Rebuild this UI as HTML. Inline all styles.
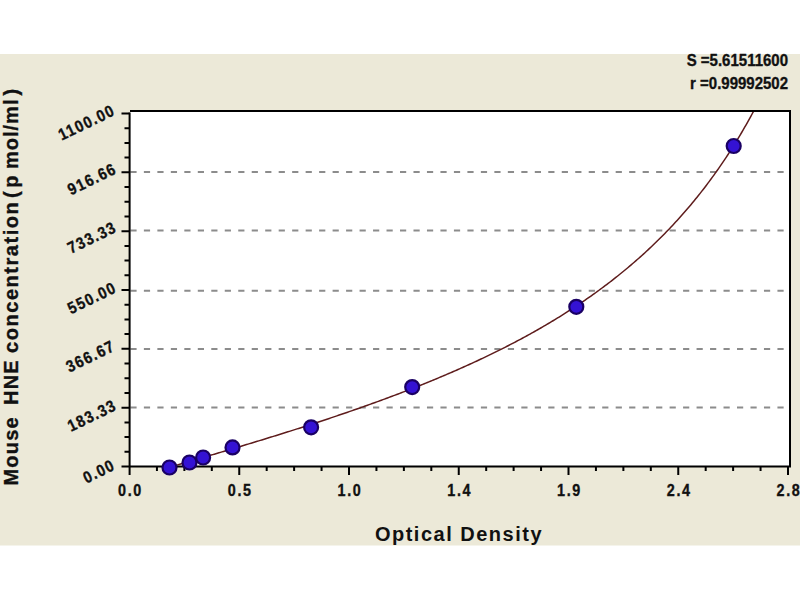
<!DOCTYPE html>
<html><head><meta charset="utf-8"><style>
html,body{margin:0;padding:0;background:#fff;width:800px;height:600px;overflow:hidden}
svg{display:block}
text{font-family:"Liberation Sans",sans-serif;font-weight:bold;fill:#111;stroke:#111;stroke-width:0.35px}
</style></head><body><div id="w">
<svg width="800" height="600" viewBox="0 0 800 600">
<defs><clipPath id="pc"><rect x="130" y="112" width="659" height="354"/></clipPath></defs>
<rect x="0" y="54" width="800" height="491.5" fill="#ECE9D8"/>
<rect x="130" y="111" width="660" height="355.5" fill="#fff"/>
<path d="M130.4 407.6H789M130.4 349.1H789M130.4 290.7H789M130.4 230.5H789M130.4 172.1H789" stroke="#8c8c8c" stroke-width="2" stroke-dasharray="6.2 7.28" fill="none"/>
<polyline points="153.02,471.98 154.55,471.54 156.08,471.10 157.62,470.65 159.15,470.21 160.68,469.77 162.21,469.33 163.75,468.89 165.28,468.44 166.81,468.00 168.34,467.56 169.88,467.12 171.41,466.67 172.94,466.23 174.47,465.79 176.01,465.34 177.54,464.90 179.07,464.45 180.60,464.01 182.14,463.57 183.67,463.12 185.20,462.68 186.73,462.23 188.27,461.79 189.80,461.34 191.33,460.89 192.86,460.45 194.40,460.00 195.93,459.55 197.46,459.11 198.99,458.66 200.53,458.21 202.06,457.76 203.59,457.31 205.12,456.87 206.66,456.42 208.19,455.97 209.72,455.52 211.25,455.07 212.79,454.61 214.32,454.16 215.85,453.71 217.38,453.26 218.92,452.81 220.45,452.35 221.98,451.90 223.51,451.45 225.05,450.99 226.58,450.54 228.11,450.08 229.64,449.63 231.18,449.17 232.71,448.71 234.24,448.25 235.77,447.80 237.31,447.34 238.84,446.88 240.37,446.42 241.90,445.96 243.44,445.50 244.97,445.04 246.50,444.57 248.03,444.11 249.57,443.65 251.10,443.18 252.63,442.72 254.16,442.25 255.70,441.79 257.23,441.32 258.76,440.85 260.29,440.38 261.83,439.92 263.36,439.45 264.89,438.98 266.42,438.51 267.96,438.03 269.49,437.56 271.02,437.09 272.55,436.61 274.09,436.14 275.62,435.66 277.15,435.19 278.68,434.71 280.22,434.23 281.75,433.75 283.28,433.27 284.81,432.79 286.35,432.31 287.88,431.83 289.41,431.34 290.94,430.86 292.48,430.37 294.01,429.89 295.54,429.40 297.07,428.91 298.61,428.42 300.14,427.93 301.67,427.44 303.20,426.95 304.74,426.46 306.27,425.96 307.80,425.47 309.33,424.97 310.87,424.48 312.40,423.98 313.93,423.48 315.46,422.98 317.00,422.48 318.53,421.97 320.06,421.47 321.59,420.96 323.13,420.46 324.66,419.95 326.19,419.44 327.72,418.93 329.26,418.42 330.79,417.91 332.32,417.40 333.85,416.88 335.39,416.37 336.92,415.85 338.45,415.33 339.98,414.81 341.52,414.29 343.05,413.77 344.58,413.24 346.11,412.72 347.65,412.19 349.18,411.66 350.71,411.13 352.24,410.60 353.78,410.07 355.31,409.54 356.84,409.00 358.37,408.46 359.91,407.93 361.44,407.39 362.97,406.84 364.50,406.30 366.04,405.76 367.57,405.21 369.10,404.66 370.63,404.11 372.17,403.56 373.70,403.01 375.23,402.46 376.76,401.90 378.30,401.34 379.83,400.78 381.36,400.22 382.89,399.66 384.43,399.09 385.96,398.53 387.49,397.96 389.02,397.39 390.56,396.82 392.09,396.24 393.62,395.67 395.15,395.09 396.69,394.51 398.22,393.93 399.75,393.35 401.28,392.76 402.82,392.17 404.35,391.59 405.88,390.99 407.41,390.40 408.95,389.81 410.48,389.21 412.01,388.61 413.54,388.01 415.08,387.40 416.61,386.80 418.14,386.19 419.67,385.58 421.21,384.96 422.74,384.35 424.27,383.73 425.80,383.11 427.34,382.49 428.87,381.87 430.40,381.24 431.93,380.61 433.47,379.98 435.00,379.35 436.53,378.71 438.06,378.07 439.60,377.43 441.13,376.78 442.66,376.14 444.19,375.49 445.73,374.84 447.26,374.18 448.79,373.52 450.32,372.86 451.86,372.20 453.39,371.54 454.92,370.87 456.45,370.20 457.99,369.52 459.52,368.85 461.05,368.17 462.58,367.48 464.12,366.80 465.65,366.11 467.18,365.42 468.71,364.72 470.25,364.03 471.78,363.33 473.31,362.62 474.84,361.91 476.38,361.20 477.91,360.49 479.44,359.77 480.97,359.05 482.51,358.33 484.04,357.60 485.57,356.87 487.10,356.14 488.64,355.40 490.17,354.66 491.70,353.92 493.23,353.17 494.77,352.42 496.30,351.66 497.83,350.90 499.36,350.14 500.90,349.37 502.43,348.60 503.96,347.83 505.49,347.05 507.03,346.27 508.56,345.49 510.09,344.70 511.62,343.90 513.16,343.10 514.69,342.30 516.22,341.50 517.75,340.68 519.29,339.87 520.82,339.05 522.35,338.23 523.88,337.40 525.42,336.57 526.95,335.73 528.48,334.89 530.01,334.04 531.55,333.19 533.08,332.34 534.61,331.48 536.14,330.61 537.68,329.74 539.21,328.87 540.74,327.99 542.27,327.10 543.81,326.21 545.34,325.32 546.87,324.42 548.40,323.51 549.94,322.60 551.47,321.69 553.00,320.76 554.53,319.84 556.07,318.90 557.60,317.97 559.13,317.02 560.66,316.07 562.20,315.12 563.73,314.16 565.26,313.19 566.79,312.22 568.33,311.24 569.86,310.25 571.39,309.26 572.92,308.26 574.46,307.26 575.99,306.25 577.52,305.23 579.05,304.21 580.59,303.18 582.12,302.14 583.65,301.10 585.18,300.05 586.72,298.99 588.25,297.92 589.78,296.85 591.31,295.77 592.85,294.69 594.38,293.59 595.91,292.49 597.44,291.38 598.98,290.26 600.51,289.14 602.04,288.01 603.57,286.87 605.11,285.72 606.64,284.56 608.17,283.40 609.70,282.23 611.24,281.04 612.77,279.85 614.30,278.66 615.83,277.45 617.37,276.23 618.90,275.01 620.43,273.77 621.96,272.53 623.50,271.28 625.03,270.01 626.56,268.74 628.09,267.46 629.63,266.17 631.16,264.87 632.69,263.55 634.22,262.23 635.76,260.90 637.29,259.56 638.82,258.20 640.35,256.84 641.89,255.46 643.42,254.08 644.95,252.68 646.48,251.27 648.02,249.85 649.55,248.42 651.08,246.97 652.61,245.52 654.15,244.05 655.68,242.57 657.21,241.07 658.74,239.57 660.28,238.05 661.81,236.52 663.34,234.97 664.87,233.41 666.41,231.84 667.94,230.25 669.47,228.65 671.00,227.04 672.54,225.41 674.07,223.77 675.60,222.11 677.13,220.43 678.67,218.75 680.20,217.04 681.73,215.32 683.26,213.58 684.80,211.83 686.33,210.06 687.86,208.27 689.39,206.47 690.93,204.65 692.46,202.81 693.99,200.96 695.52,199.08 697.06,197.19 698.59,195.28 700.12,193.35 701.65,191.40 703.19,189.43 704.72,187.44 706.25,185.43 707.78,183.40 709.32,181.35 710.85,179.28 712.38,177.18 713.91,175.07 715.45,172.93 716.98,170.77 718.51,168.58 720.04,166.37 721.58,164.14 723.11,161.89 724.64,159.61 726.17,157.30 727.71,154.97 729.24,152.61 730.77,150.22 732.30,147.81 733.84,145.37 735.37,142.91 736.90,140.41 738.43,137.89 739.97,135.33 741.50,132.75 743.03,130.13 744.56,127.49 746.10,124.81 747.63,122.10 749.16,119.35 750.69,116.58 752.23,113.76 753.76,110.92 755.29,108.04 756.82,105.12 758.36,102.16 759.89,99.17 761.42,96.13 762.95,93.06 764.49,89.95" fill="none" stroke="#5e1c1c" stroke-width="1.5" clip-path="url(#pc)"/>
<path d="M130 111H791M790 110V467.5M129.6 466.5H791M129.6 112.5V475" fill="none" stroke="#000" stroke-width="2"/>
<path d="M121.5 466.50H129.6M124.5 451.79H129.6M124.5 437.08H129.6M124.5 422.38H129.6M121.5 407.67H129.6M124.5 392.96H129.6M124.5 378.25H129.6M124.5 363.54H129.6M121.5 348.83H129.6M124.5 334.12H129.6M124.5 319.42H129.6M124.5 304.71H129.6M121.5 290.00H129.6M124.5 275.29H129.6M124.5 260.58H129.6M124.5 245.88H129.6M121.5 231.17H129.6M124.5 216.46H129.6M124.5 201.75H129.6M124.5 187.04H129.6M121.5 172.33H129.6M124.5 157.62H129.6M124.5 142.92H129.6M124.5 128.21H129.6M121.5 113.50H129.6M156.94 466V471M184.38 466V471M211.81 466V471M239.25 466V475M266.69 466V471M294.12 466V471M321.56 466V471M349.00 466V475M376.44 466V471M403.88 466V471M431.31 466V471M458.75 466V475M486.19 466V471M513.62 466V471M541.06 466V471M568.50 466V475M595.94 466V471M623.38 466V471M650.81 466V471M678.25 466V475M705.69 466V471M733.12 466V471M760.56 466V471M788.00 466V475" stroke="#000" stroke-width="2" fill="none"/>
<g fill="#3412d4" stroke="#1a0064" stroke-width="2.2">
<circle cx="169.5" cy="467.5" r="7"/>
<circle cx="189.5" cy="462.5" r="7"/>
<circle cx="203.1" cy="457.5" r="7"/>
<circle cx="232.5" cy="447.4" r="7"/>
<circle cx="311.1" cy="427.3" r="7"/>
<circle cx="412.2" cy="387.1" r="7"/>
<circle cx="576.3" cy="306.8" r="7"/>
<circle cx="733.7" cy="146.0" r="7"/>
</g>
<g font-size="16.5" letter-spacing="1.6">
<text transform="translate(116.5 469.00) rotate(-26) scale(0.87 1)" text-anchor="end">0.00</text>
<text transform="translate(118.0 409.17) rotate(-26) scale(0.87 1)" text-anchor="end">183.33</text>
<text transform="translate(116.5 349.83) rotate(-26) scale(0.87 1)" text-anchor="end">366.67</text>
<text transform="translate(118.0 291.50) rotate(-26) scale(0.87 1)" text-anchor="end">550.00</text>
<text transform="translate(118.0 231.17) rotate(-26) scale(0.87 1)" text-anchor="end">733.33</text>
<text transform="translate(118.0 172.63) rotate(-26) scale(0.87 1)" text-anchor="end">916.66</text>
<text transform="translate(116.5 114.20) rotate(-26) scale(0.87 1)" text-anchor="end">1100.00</text>
</g>
<g font-size="16.5">
<text transform="translate(130.50 495.5) scale(0.87 1)" text-anchor="middle" letter-spacing="2.0">0.0</text>
<text transform="translate(240.25 495.5) scale(0.87 1)" text-anchor="middle" letter-spacing="2.0">0.5</text>
<text transform="translate(350.00 495.5) scale(0.87 1)" text-anchor="middle" letter-spacing="2.0">1.0</text>
<text transform="translate(459.75 495.5) scale(0.87 1)" text-anchor="middle" letter-spacing="2.0">1.4</text>
<text transform="translate(569.50 495.5) scale(0.87 1)" text-anchor="middle" letter-spacing="2.0">1.9</text>
<text transform="translate(679.25 495.5) scale(0.87 1)" text-anchor="middle" letter-spacing="2.0">2.4</text>
<text transform="translate(789.00 495.5) scale(0.87 1)" text-anchor="middle" letter-spacing="2.0">2.8</text>
</g>
<text transform="translate(788 66) scale(0.92 1)" text-anchor="end" font-size="16.3">S =5.61511600</text>
<text transform="translate(788 88.5) scale(0.92 1)" text-anchor="end" font-size="16.3">r =0.99992502</text>
<text x="459" y="541" text-anchor="middle" font-size="20" letter-spacing="1.5" style="stroke-width:0">Optical Density</text>
<g font-size="20" letter-spacing="1.2" style="stroke-width:0"><text transform="translate(17.5 485.5) rotate(-90)" letter-spacing="1.2">Mouse</text><text transform="translate(17.5 405) rotate(-90)" letter-spacing="1.2">HNE</text><text transform="translate(17.5 353) rotate(-90)" letter-spacing="1.55">concentration</text><text transform="translate(17.5 198) rotate(-90)" letter-spacing="3.6">(p</text><text transform="translate(17.5 169) rotate(-90)" letter-spacing="1.0">mol/ml</text><text transform="translate(17.5 95.5) rotate(-90)" letter-spacing="1.2">)</text></g>
</svg></div>
</body></html>
